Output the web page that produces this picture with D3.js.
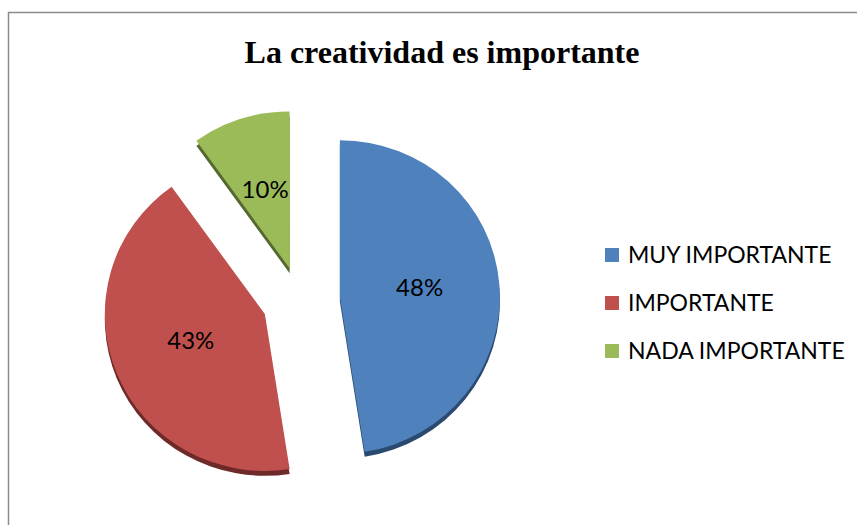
<!DOCTYPE html>
<html>
<head>
<meta charset="utf-8">
<script src="https://cdn.jsdelivr.net/npm/d3@7"></script>
<style>
  body { margin: 0; background: #fff; }
  svg { display: block; }
</style>
</head>
<body>
<svg id="chart"></svg>
<script>
const categories = ["MUY IMPORTANTE", "IMPORTANTE", "NADA IMPORTANTE"];
const values = [48, 43, 10];
const labels = ["48%", "43%", "10%"];
const colors = ["#4F81BD", "#C0504D", "#9BBB59"];
const sideColors = ["#2b4a70", "#6e2a28", "#55682e"];
const explode = [40, 38, 34];

const width = 857, height = 525;
const radius = 160;
const cx = 300, cy = 300;

const svg = d3.select("#chart")
    .attr("width", width)
    .attr("height", height);

// chart frame
svg.append("path")
    .attr("d", `M8.5,${height} V12.5 H${width}`)
    .attr("fill", "none")
    .attr("stroke", "#8c8c8c")
    .attr("stroke-width", 1.5);

svg.append("text")
    .attr("x", 442)
    .attr("y", 63)
    .attr("text-anchor", "middle")
    .style("font-family", "'Liberation Serif', 'Times New Roman', serif")
    .style("font-weight", "bold")
    .style("font-size", "32px")
    .text("La creatividad es importante");

const pie = d3.pie().sort(null).value(d => d);
const arcs = pie(values);
const arc = d3.arc().innerRadius(0).outerRadius(radius);

const slices = svg.append("g")
    .attr("transform", `translate(${cx},${cy}) scale(1,0.98)`)
    .selectAll("g")
    .data(arcs)
    .join("g")
    .attr("transform", (d, i) => {
        const a = (d.startAngle + d.endAngle) / 2;
        return `translate(${Math.sin(a) * explode[i]},${-Math.cos(a) * explode[i]})`;
    });

// side / depth
slices.append("path")
    .attr("d", arc)
    .attr("transform", "translate(0,5)")
    .attr("fill", (d, i) => sideColors[i]);

slices.append("path")
    .attr("d", arc)
    .attr("fill", (d, i) => colors[i]);

slices.append("text")
    .attr("transform", d => `translate(${arc.centroid(d)})`)
    .attr("text-anchor", "middle")
    .attr("dy", "0.2em")
    .style("font-family", "Lato, 'Open Sans', sans-serif")
    .style("font-size", "24px")
    .style("fill", "#000")
    .text((d, i) => labels[i]);

const legend = svg.append("g")
    .attr("transform", "translate(605,255)")
    .selectAll("g")
    .data(categories)
    .join("g")
    .attr("transform", (d, i) => `translate(0,${i * 48})`);

legend.append("rect")
    .attr("x", 0)
    .attr("y", -7)
    .attr("width", 14)
    .attr("height", 14)
    .attr("fill", (d, i) => colors[i]);

legend.append("text")
    .attr("x", 23)
    .attr("dy", "0.36em")
    .style("font-family", "Lato, 'Open Sans', sans-serif")
    .style("font-size", "23px")
    .text(d => d);
</script>
</body>
</html>
